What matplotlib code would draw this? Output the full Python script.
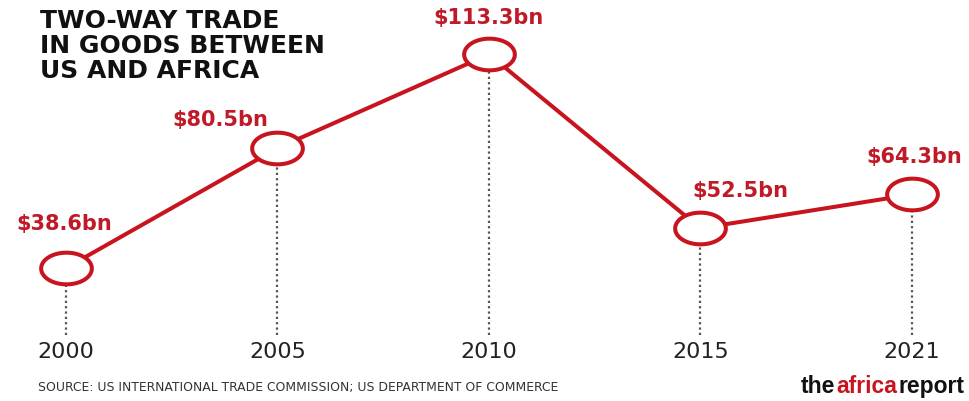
import matplotlib
matplotlib.use("Agg")
import matplotlib.pyplot as plt
import numpy as np
from matplotlib.path import Path

years = ["2000", "2005", "2010", "2015", "2021"]
trade_bn = [38.6, 80.5, 113.3, 52.5, 64.3]
value_labels = ["$38.6bn", "$80.5bn", "$113.3bn", "$52.5bn", "$64.3bn"]
# label offsets from each point, in points
label_offsets = [(-1, 32), (-41, 20), (0, 26), (29, 27), (2, 27)]

RED = "#c8141f"
LABEL_RED = "#c01a28"

# flattened ellipse used as the point marker
theta = np.linspace(0, 2 * np.pi, 80)
ellipse = Path(np.column_stack([1.6 * np.cos(theta), np.sin(theta)]), closed=True)

fig = plt.figure(figsize=(9.69, 4.01), dpi=100)
ax = fig.add_axes([0, 0, 1, 1])
x = np.arange(len(years))

ax.set_xlim(-0.312, 4.27)
ax.set_ylim(-7.9, 132.3)
ax.axis("off")

# dotted drop lines from each point to the year labels
ax.vlines(x, 15.1, trade_bn, colors="#555555", linestyles=(0, (1, 1.4)), linewidth=1.6, zorder=1)

ax.plot(x, trade_bn, color=RED, linewidth=2.9, zorder=2, solid_capstyle="round")
ax.plot(x, trade_bn, linestyle="none", marker=ellipse, markersize=36.5,
        markerfacecolor="white", markeredgecolor=RED, markeredgewidth=2.9, zorder=3)

for xi, v, lab, off in zip(x, trade_bn, value_labels, label_offsets):
    ax.annotate(lab, (xi, v), xytext=off, textcoords="offset points",
                ha="center", va="center", color=LABEL_RED,
                fontsize=15, fontweight="bold", family="DejaVu Sans")

for xi, yr in zip(x, years):
    ax.text(xi, 0.122, yr, transform=ax.get_xaxis_transform(),
            ha="center", va="center", fontsize=16, color="#222222",
            family="DejaVu Sans")

# title block
title_lines = ["TWO-WAY TRADE", "IN GOODS BETWEEN", "US AND AFRICA"]
for i, line in enumerate(title_lines):
    fig.text(40 / 969, 1 - (21 + 25 * i) / 401, line, ha="left", va="center",
             fontsize=18, fontweight="heavy", color="#111111", family="DejaVu Sans")

fig.text(38 / 969, 1 - 388 / 401,
         "SOURCE: US INTERNATIONAL TRADE COMMISSION; US DEPARTMENT OF COMMERCE",
         ha="left", va="center", fontsize=8.9, color="#333333", family="DejaVu Sans")

# masthead, built right to left from the edge
logo_font = dict(fontsize=16.5, fontweight="bold", family="Liberation Sans")
t3 = fig.text(965 / 969, 1 - 393 / 401, "report", ha="right", va="baseline", color="#111111", **logo_font)
t2 = ax.annotate("africa", xy=(0, 0), xycoords=t3, xytext=(-1.2, 0), textcoords="offset points",
                 ha="right", va="bottom", color=RED, **logo_font)
ax.annotate("the", xy=(0, 0), xycoords=t2, xytext=(-1.2, 0), textcoords="offset points",
            ha="right", va="bottom", color="#111111", **logo_font)

fig.savefig("out.png", dpi=100, facecolor="white")
